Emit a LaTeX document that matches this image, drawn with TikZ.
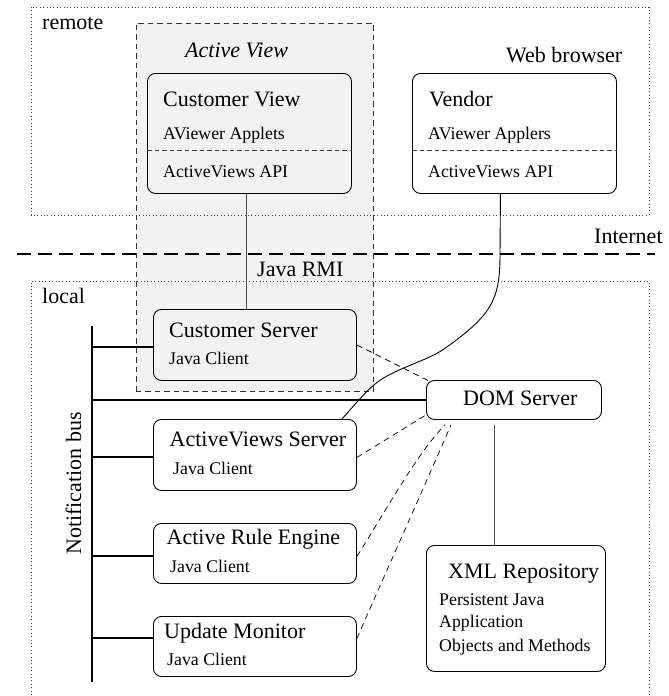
\documentclass[tikz,border=0pt]{standalone}
\usepackage{fontspec}
\setmainfont{Liberation Serif}
\usetikzlibrary{calc}
\definecolor{viewgray}{HTML}{F2F2F2}
\tikzset{
  x=1pt,y=-1pt,
  boxnode/.style={draw=black,line width=0.9pt,rounded corners=8pt,anchor=north west,inner sep=0pt,fill=white},
  grayfill/.style={fill=viewgray},
  big/.style={anchor=base west,inner sep=0pt,font=\fontsize{22}{24}\selectfont},
  small/.style={anchor=base west,inner sep=0pt,font=\fontsize{17.8}{20}\selectfont},
  zone/.style={draw=black!75,line width=0.7pt,dash pattern=on 1pt off 2.4pt},
  thinline/.style={draw=black!70,line width=1pt},
  busline/.style={draw=black,line width=2pt},
  linkdash/.style={draw=black,line width=0.7pt,dash pattern=on 6pt off 4.5pt},
}
\begin{document}
\begin{tikzpicture}
\useasboundingbox (0,0) rectangle (669,696);
% active view zone
\node[anchor=north west,inner sep=0pt,minimum width=237pt,minimum height=368pt,grayfill] (activeview) at (136,23) {};
% dotted zones
\draw[zone] (31,695) -- (31,281) -- (649,281) -- (649,695);
\draw[zone] (31,7) rectangle (649,215);
\draw[draw=black!80,line width=1pt,dash pattern=on 5.5pt off 4pt] (activeview.south west) rectangle (activeview.north east);
% internet line
\coordinate (netL) at (17,254);
\coordinate (netR) at (655,254);
\draw[draw=black,line width=2pt,dash pattern=on 14pt off 7pt] (netL) -- (netR);
% boxes
\node[boxnode,grayfill,minimum width=204pt,minimum height=120pt] (custview) at (147,73) {};
\node[boxnode,minimum width=204pt,minimum height=120pt] (vendor) at (412,73) {};
\node[boxnode,grayfill,minimum width=203pt,minimum height=71pt] (custserver) at (153,309) {};
\node[boxnode,minimum width=175pt,minimum height=39pt] (dom) at (426,380) {};
\node[boxnode,minimum width=203pt,minimum height=71pt] (avserver) at (153,419) {};
\node[boxnode,minimum width=203pt,minimum height=60pt] (rule) at (153,523) {};
\node[boxnode,minimum width=203pt,minimum height=60pt] (monitor) at (153,616) {};
\node[boxnode,minimum width=179pt,minimum height=126pt] (xml) at (426,545) {};
% dividers
\draw[draw=black!75,line width=0.9pt,dash pattern=on 4.5pt off 3pt] ([yshift=-77pt]custview.north west) -- ([yshift=-77pt]custview.north east);
\draw[draw=black!75,line width=0.9pt,dash pattern=on 4.5pt off 3pt] ([yshift=-77pt]vendor.north west) -- ([yshift=-77pt]vendor.north east);
% RMI link
\coordinate (rmiT) at ([xshift=-3pt]custview.south);
\draw[thinline] (rmiT) -- (rmiT |- custserver.north);
% vendor curve
\coordinate (vendorS) at ([xshift=-14pt]vendor.south);
\coordinate (avsN) at ([xshift=-15pt]avserver.north east);
\draw[draw=black,line width=0.9pt] (vendorS) -- (500,254)
  .. controls (500,300) and (492,315) .. (444,349)
  .. controls (425,362) and (395,368) .. (375,384)
  .. controls (365,392) and (352,408) .. (avsN);
% dashed links
\draw[linkdash] (custserver.east) -- ([shift={(3pt,-1pt)}]dom.north west);
\draw[linkdash] ([yshift=-2.5pt]avserver.east) -- ([yshift=5pt]dom.south west);
\draw[linkdash] ([yshift=-3pt]rule.east) .. controls (385,512) and (418,452) .. ([shift={(19pt,-5pt)}]dom.south west);
\draw[linkdash] ([yshift=8pt]monitor.east) .. controls (378,590) and (425,485) .. ([shift={(25pt,-5pt)}]dom.south west);
% xml link
\coordinate (xmlT) at ([xshift=-21.5pt]xml.north);
\coordinate (domB) at ([yshift=-5pt]dom.south);
\draw[draw=black!70,line width=0.9pt] (xmlT) -- (xmlT |- domB);
% notification bus
\coordinate (busT) at (92,326);
\coordinate (busB) at (92,682);
\draw[busline] (busT) -- (busB);
\coordinate (csW) at ([yshift=-2.5pt]custserver.west);
\coordinate (avW) at ([yshift=-2.5pt]avserver.west);
\coordinate (ruW) at ([yshift=-3pt]rule.west);
\coordinate (moW) at ([yshift=8pt]monitor.west);
\draw[busline] (busT |- csW) -- (csW);
\draw[busline] (busT |- dom.west) -- (dom.west);
\draw[busline] (busT |- avW) -- (avW);
\draw[busline] (busT |- ruW) -- (ruW);
\draw[busline] (busT |- moW) -- (moW);
% labels
\node[big] (tremote) at (42,29) {remote};
\node[big,font=\fontsize{22}{24}\selectfont\itshape] (tactive) at (185,57) {Active View};
\node[big] (tweb) at (506,62) {Web browser};
\node[big] (tnet) at (594,243) {Internet};
\node[big] (trmi) at (257,276) {Java RMI};
\node[big] (tlocal) at (42,303) {local};
\node[big] (t1) at (163,106) {Customer View};
\node[small] (t2) at (163,139) {AViewer Applets};
\node[small] (t3) at (163,177) {ActiveViews API};
\node[big] (t4) at (429,106) {Vendor};
\node[small] (t5) at (428,139) {AViewer Applers};
\node[small] (t6) at (428,177) {ActiveViews API};
\node[big] (t7) at (169,337) {Customer Server};
\node[small] (t8) at (169,364) {Java Client};
\node[big] (t9) at (463,405) {DOM Server};
\node[big] (t10) at (169.5,446) {ActiveViews Server};
\node[small] (t11) at (173,474) {Java Client};
\node[big] (t12) at (166.5,544) {Active Rule Engine};
\node[small] (t13) at (170,572) {Java Client};
\node[big] (t14) at (164,638) {Update Monitor};
\node[small] (t15) at (167,665) {Java Client};
\node[big] (t16) at (448,578) {XML Repository};
\node[small] (t17) at (439,605) {Persistent Java};
\node[small] (t18) at (439,627) {Application};
\node[small] (t19) at (439,651) {Objects and Methods};
\node[big,rotate=90] (tbus) at (81,555) {Notification bus};
\end{tikzpicture}
\end{document}
